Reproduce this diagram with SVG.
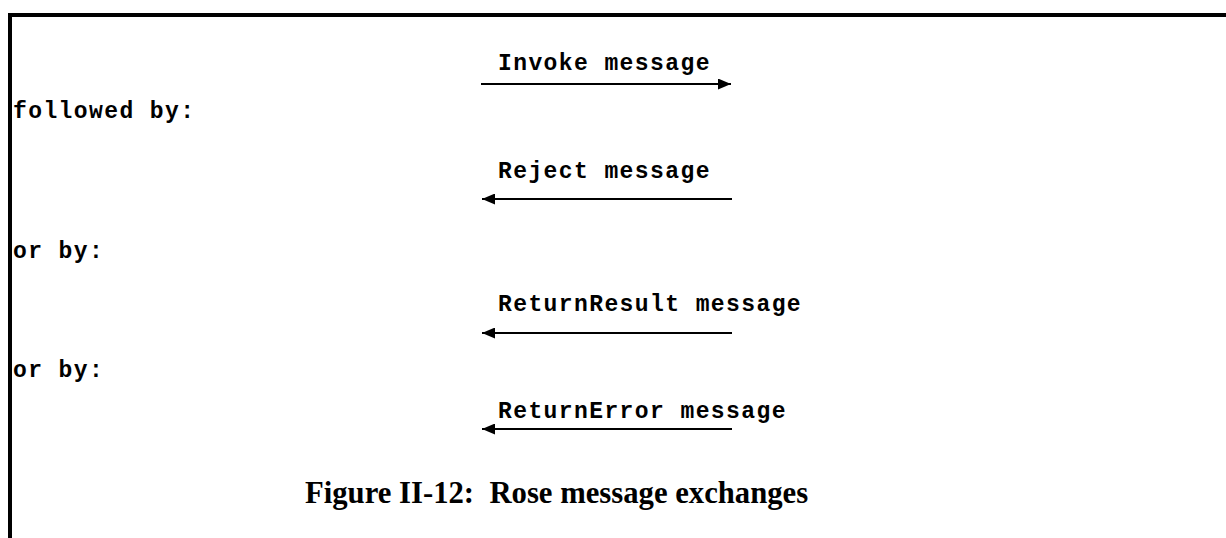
<svg xmlns="http://www.w3.org/2000/svg" width="1226" height="538" viewBox="0 0 1226 538">
  <defs>
    <style>
      .mono { font-family: "Liberation Mono", "Courier New", monospace; font-weight: bold; font-size: 23px; letter-spacing: 1.4px; fill: #000; }
      .caption { font-family: "Liberation Serif", "Times New Roman", serif; font-weight: bold; font-size: 30.7px; fill: #000; }
      .msg { stroke: #000; stroke-width: 2; fill: none; }
    </style>
    <marker id="head" viewBox="0 0 13 11" refX="13" refY="5.5" markerWidth="13" markerHeight="11" markerUnits="userSpaceOnUse" orient="auto">
      <path d="M0,0 L13,5.5 L0,11 Z" fill="#000"/>
    </marker>
  </defs>

  <rect width="1226" height="538" fill="#fff"/>

  <!-- frame: top rule and left rule -->
  <g id="frame">
    <rect x="8" y="13" width="1218" height="4" fill="#000"/>
    <rect x="8" y="13" width="4" height="525" fill="#000"/>
  </g>

  <!-- side labels -->
  <g id="labels">
    <text class="mono" x="13" y="118">followed by:</text>
    <text class="mono" x="13" y="258">or by:</text>
    <text class="mono" x="13" y="377">or by:</text>
  </g>

  <!-- message names -->
  <g id="invoke"><text class="mono" x="498" y="70">Invoke message</text></g>
  <g id="reject"><text class="mono" x="498" y="178">Reject message</text></g>
  <g id="returnresult"><text class="mono" x="498" y="311">ReturnResult message</text></g>
  <g id="returnerror"><text class="mono" x="498" y="418">ReturnError message</text></g>

  <!-- message arrows -->
  <g id="connectors">
    <line class="msg" x1="481" y1="84" x2="731" y2="84" marker-end="url(#head)"/>
    <line class="msg" x1="732" y1="199" x2="482" y2="199" marker-end="url(#head)"/>
    <line class="msg" x1="732" y1="333" x2="482" y2="333" marker-end="url(#head)"/>
    <line class="msg" x1="732" y1="429" x2="482" y2="429" marker-end="url(#head)"/>
  </g>

  <g id="title">
    <text class="caption" x="305" y="503" xml:space="preserve">Figure II-12:  Rose message exchanges</text>
  </g>
</svg>
